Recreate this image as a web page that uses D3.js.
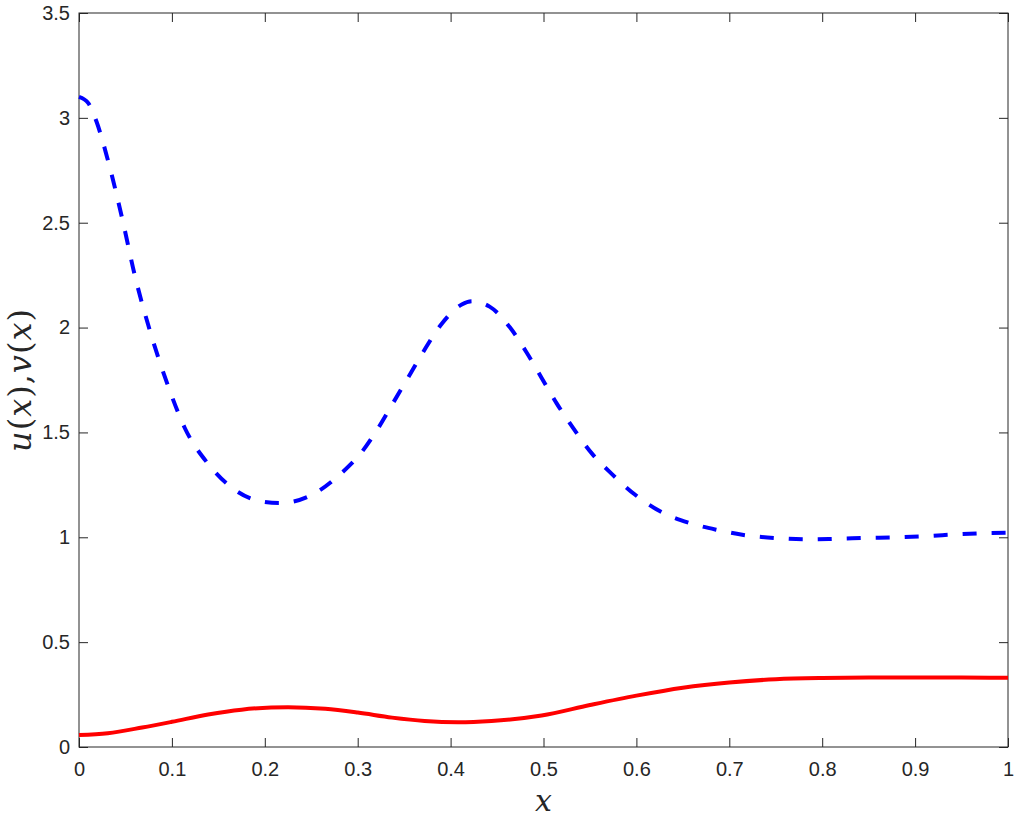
<!DOCTYPE html>
<html>
<head>
<meta charset="utf-8">
<script src="https://cdn.jsdelivr.net/npm/d3@7"></script>
<style>
  body { margin: 0; background: #fff; }
  svg { display: block; }
</style>
</head>
<body>
<div id="chart"></div>
<script>
// values
const vX = [0, 0.01, 0.019, 0.031, 0.047, 0.06, 0.076, 0.096, 0.114, 0.139, 0.165, 0.197, 0.216,
            0.254, 0.281, 0.305, 0.322, 0.338, 0.354, 0.37, 0.389, 0.412, 0.423, 0.442, 0.464,
            0.482, 0.498, 0.514, 0.532, 0.552, 0.574, 0.598, 0.625, 0.656, 0.687, 0.717, 0.751,
            0.784, 0.816, 0.848, 0.88, 0.913, 0.945, 0.977, 1]
const vY = [3.10, 3.07, 2.98, 2.80, 2.51, 2.25, 1.99, 1.72, 1.52, 1.35, 1.235, 1.17, 1.163,
            1.21, 1.30, 1.41, 1.52, 1.64, 1.76, 1.88, 2.01, 2.11, 2.125, 2.10, 2.00,
            1.88, 1.76, 1.64, 1.52, 1.40, 1.30, 1.205, 1.125, 1.07, 1.035, 1.01, 0.996,
            0.99, 0.993, 0.997, 1.0, 1.006, 1.014, 1.02, 1.022]

const uX = [0, 0.031, 0.068, 0.1, 0.139, 0.175, 0.225, 0.265, 0.3, 0.337, 0.372, 0.408, 0.444,
            0.498, 0.55, 0.6, 0.65, 0.7, 0.75, 0.8, 0.85, 0.9, 0.95, 1]
const uY = [0.057, 0.066, 0.093, 0.12, 0.155, 0.178, 0.19, 0.182, 0.164, 0.14, 0.124, 0.118, 0.124,
            0.15, 0.2, 0.245, 0.283, 0.308, 0.323, 0.329, 0.331, 0.331, 0.331, 0.33]

const xTicks = [0, 0.1, 0.2, 0.3, 0.4, 0.5, 0.6, 0.7, 0.8, 0.9, 1]
const yTicks = [0, 0.5, 1, 1.5, 2, 2.5, 3, 3.5]

const width = 1017
const height = 819
const margin = { top: 13, right: 9, bottom: 72, left: 79 }
const w = width - margin.left - margin.right
const h = height - margin.top - margin.bottom

const svg = d3.select('#chart')
              .append('svg')
              .attr('width', width)
              .attr('height', height)

const g = svg.append('g')
             .attr('transform', `translate(${margin.left}, ${margin.top})`)

const x = d3.scaleLinear().domain([0, 1]).range([0, w])
const y = d3.scaleLinear().domain([0, 3.5]).range([h, 0])

const axisColor = '#262626'
const tickFont = '20px "Liberation Sans", Arial, sans-serif'

// box
g.append('rect')
 .attr('width', w)
 .attr('height', h)
 .attr('fill', 'none')
 .attr('stroke', axisColor)
 .attr('stroke-width', 1)

// bottom axis + labels
const xAxis = g.append('g')
               .attr('transform', `translate(0, ${h})`)
               .call(d3.axisBottom(x).tickValues(xTicks).tickSize(-9).tickPadding(15)
                      .tickFormat(d => d3.format('')(d)))
xAxis.select('.domain').remove()
xAxis.selectAll('line').attr('stroke', axisColor)
xAxis.selectAll('text').style('font', tickFont).attr('fill', axisColor)

// top ticks
const xTop = g.append('g')
              .call(d3.axisTop(x).tickValues(xTicks).tickSize(-9).tickFormat(''))
xTop.select('.domain').remove()
xTop.selectAll('line').attr('stroke', axisColor)

// left axis + labels
const yAxis = g.append('g')
               .call(d3.axisLeft(y).tickValues(yTicks).tickSize(-9).tickPadding(9)
                      .tickFormat(d => d3.format('')(d)))
yAxis.select('.domain').remove()
yAxis.selectAll('line').attr('stroke', axisColor)
yAxis.selectAll('text').style('font', tickFont).attr('fill', axisColor)

// right ticks
const yRight = g.append('g')
                .attr('transform', `translate(${w}, 0)`)
                .call(d3.axisRight(y).tickValues(yTicks).tickSize(-9).tickFormat(''))
yRight.select('.domain').remove()
yRight.selectAll('line').attr('stroke', axisColor)

const line = d3.line()
               .x(d => x(d[0]))
               .y(d => y(d[1]))
               .curve(d3.curveMonotoneX)

g.append('path')
 .datum(uX.map((d, i) => [d, uY[i]]))
 .attr('fill', 'none')
 .attr('stroke', '#ff0000')
 .attr('stroke-width', 4)
 .attr('d', line)

g.append('path')
 .datum(vX.map((d, i) => [d, vY[i]]))
 .attr('fill', 'none')
 .attr('stroke', '#0000ff')
 .attr('stroke-width', 4)
 .attr('stroke-dasharray', '14,15')
 .attr('d', line)

// axis titles
const serif = '"DejaVu Serif", "Liberation Serif", serif'
svg.append('text')
   .attr('x', margin.left + w / 2)
   .attr('y', 811)
   .attr('text-anchor', 'middle')
   .style('font-family', serif)
   .style('font-size', '30px')
   .style('font-style', 'italic')
   .attr('fill', axisColor)
   .text('x')

const yl = svg.append('text')
              .attr('transform', `translate(31, ${margin.top + h / 2}) rotate(-90)`)
              .attr('text-anchor', 'middle')
              .style('font-family', serif)
              .style('font-size', '32px')
              .style('letter-spacing', '1px')
              .attr('fill', axisColor)
const parts = [['u', 1], ['(', 0], ['x', 1], [')', 0], [',', 0], ['v', 1], ['(', 0], ['x', 1], [')', 0]]
parts.forEach(p => {
  yl.append('tspan')
    .style('font-style', p[1] ? 'italic' : 'normal')
    .text(p[0])
})
</script>
</body>
</html>
